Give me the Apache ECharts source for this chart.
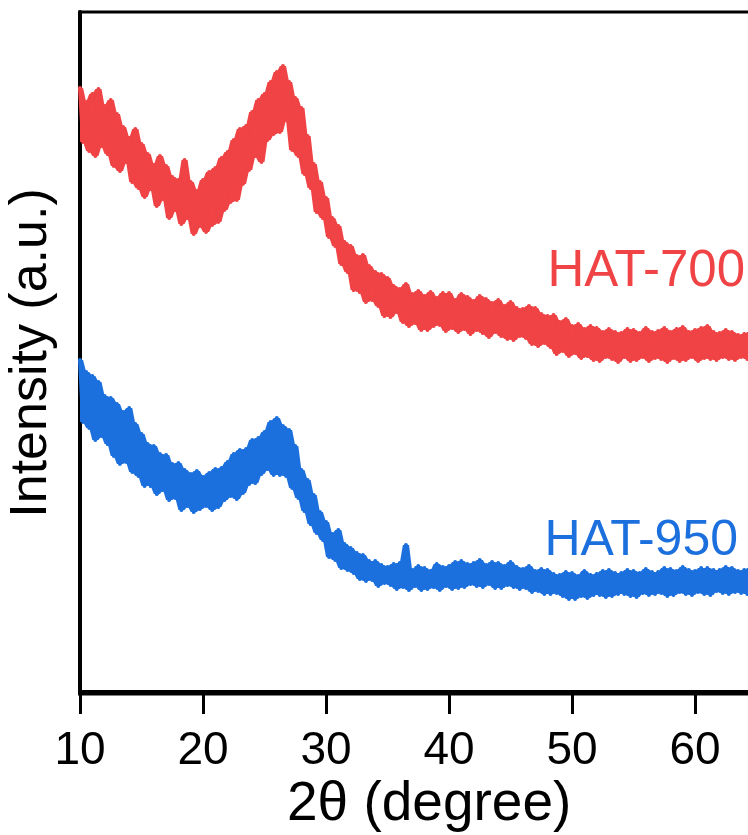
<!DOCTYPE html>
<html>
<head>
<meta charset="utf-8">
<script src="https://cdn.jsdelivr.net/npm/echarts@6/dist/echarts.min.js"></script>
<style>html,body{margin:0;padding:0;background:#fff}#c{width:748px;height:835px}</style>
</head>
<body>
<div id="c"></div>
<script>
// 2θ values: 10.00 to 65.00 in steps of 0.25 (hand-read noisy trace, one row per degree)
var xStart = 10, xStep = 0.25;
var hat700 = [
604,550,590,541, 598,536,603,546, 586,538,592,526, 578,521,565,530,
554,510,563,504, 548,495,538,503, 527,486,536,493, 526,474,515,482,
512,468,532,474, 510,458,501,466, 512,460,520,467, 524,470,534,482,
540,490,552,492, 563,508,566,522, 580,536,592,530, 598,552,610,558,
620,560,626,572, 610,542,594,536, 584,518,556,504, 528,480,510,474,
494,455,474,446, 466,428,450,420, 446,402,436,400, 437,390,426,392,
420,386,418,376, 414,375,406,380, 403,370,408,366, 398,369,401,362,
396,362,400,366, 394,367,399,361, 399,364,392,360, 398,363,395,358,
391,362,396,359, 393,355,389,360, 392,356,386,353, 390,352,384,356,
383,354,386,348, 384,346,378,349, 376,345,377,338, 370,341,373,336,
366,339,368,334, 363,336,366,332, 364,331,360,335, 363,333,360,330,
359,335,363,331, 362,332,359,335, 364,331,360,334, 361,333,364,330,
360,334,363,331, 365,332,360,335, 362,331,364,334, 366,333,360,332,
359,335,362,333, 360,332,357,335, 358,333,360,335, 357
];
var hat950 = [
332,270,320,264, 316,252,310,256, 296,248,294,236, 288,228,280,230,
284,220,268,216, 258,206,248,206, 246,198,238,202, 237,192,228,194,
229,182,222,186, 218,180,221,183, 215,186,219,182, 223,185,224,192,
230,196,238,193, 242,199,243,208, 252,209,254,218, 260,223,270,217,
274,217,266,216, 262,204,246,194, 222,181,212,168, 197,159,180,152,
170,135,158,132, 162,124,148,122, 144,119,139,113, 137,111,131,112,
131,106,127,109, 125,107,128,103, 129,105,147,102, 122,106,126,102,
124,103,121,105, 128,102,125,106, 126,103,130,104, 131,105,128,108,
129,106,132,105, 127,108,130,104, 129,104,126,107, 130,105,125,103,
123,104,126,100, 121,101,123,98, 122,98,118,99, 117,96,120,93,
119,93,116,96, 121,94,117,97, 118,97,121,95, 122,96,119,98,
119,98,122,96, 121,95,119,99, 123,97,120,98, 120,99,124,96,
123,97,121,100, 125,98,122,97, 121,100,124,98, 124,97,122,101,
122,99,125,98, 124,100,121,99, 122,98,124,101, 123
];
var xTicks = [10, 20, 30, 40, 50, 60, 70];
var seriesNames = ['HAT-700', 'HAT-950'];
var colors = ['#F04345', '#1C70DE'];

function xOf(i) { return xStart + i * xStep; }
function toPairs(arr) { return arr.map(function (v, i) { return [xOf(i), v]; }); }
function envelope(arr, pick) {
  return arr.map(function (v, i) {
    return pick(arr[Math.max(0, i - 1)], v, arr[Math.min(arr.length - 1, i + 1)]);
  });
}
// solid band between the local min and max of the trace, so the noisy line reads as a filled band
function bandSeries(arr, color) {
  var lo = envelope(arr, Math.min), hi = envelope(arr, Math.max);
  return {
    type: 'custom', silent: true, clip: true, z: 1,
    data: [[xOf(0), arr[0]]],
    renderItem: function (params, api) {
      var pts = [];
      for (var i = 0; i < hi.length; i++) pts.push(api.coord([xOf(i), hi[i]]));
      for (var j = lo.length - 1; j >= 0; j--) pts.push(api.coord([xOf(j), lo[j]]));
      return {type: 'polygon', shape: {points: pts}, style: {fill: color}};
    }
  };
}

var chart = echarts.init(document.getElementById('c'), null, {renderer: 'canvas'});
var FONT = 'Liberation Sans, Arial, sans-serif';
var series = [
  bandSeries(hat700, colors[0]),
  bandSeries(hat950, colors[1]),
  {name: seriesNames[0], type: 'line', data: toPairs(hat700), symbol: 'none',
   lineStyle: {color: colors[0], width: 4, join: 'round', cap: 'round'}, z: 2},
  {name: seriesNames[1], type: 'line', data: toPairs(hat950), symbol: 'none',
   lineStyle: {color: colors[1], width: 4, join: 'round', cap: 'round'}, z: 2}
];
chart.setOption({
  animation: false,
  backgroundColor: '#ffffff',
  grid: {left: 80, top: 12, bottom: 141, right: -70, outerBoundsMode: 'none', containLabel: false,
         show: true, borderColor: '#000', borderWidth: 3, backgroundColor: 'transparent'},
  xAxis: {
    type: 'value', min: xTicks[0], max: xTicks[xTicks.length - 1], interval: 10,
    axisLine: {lineStyle: {color: '#000', width: 4}},
    axisTick: {inside: false, length: 22, lineStyle: {color: '#000', width: 3}},
    axisLabel: {color: '#000', fontSize: 46, fontFamily: FONT, margin: 34},
    splitLine: {show: false}
  },
  yAxis: {
    type: 'value', min: -2, max: 680,
    axisLine: {show: true, lineStyle: {color: '#000', width: 4}},
    axisTick: {show: false}, axisLabel: {show: false}, splitLine: {show: false},
    name: 'Intensity (a.u.)', nameLocation: 'middle', nameGap: 22, nameRotate: 90,
    nameTextStyle: {color: '#000', fontSize: 52, fontFamily: FONT}
  },
  series: series,
  graphic: [
    {type: 'text', right: 3, top: 246, style: {text: seriesNames[0], fill: colors[0], font: '51px ' + FONT}},
    {type: 'text', right: 10, top: 516, style: {text: seriesNames[1], fill: colors[1], font: '50px ' + FONT}},
    {type: 'text', left: 287, top: 777, style: {text: '2θ (degree)', fill: '#000', font: '55px ' + FONT}}
  ]
});
</script>
</body>
</html>
